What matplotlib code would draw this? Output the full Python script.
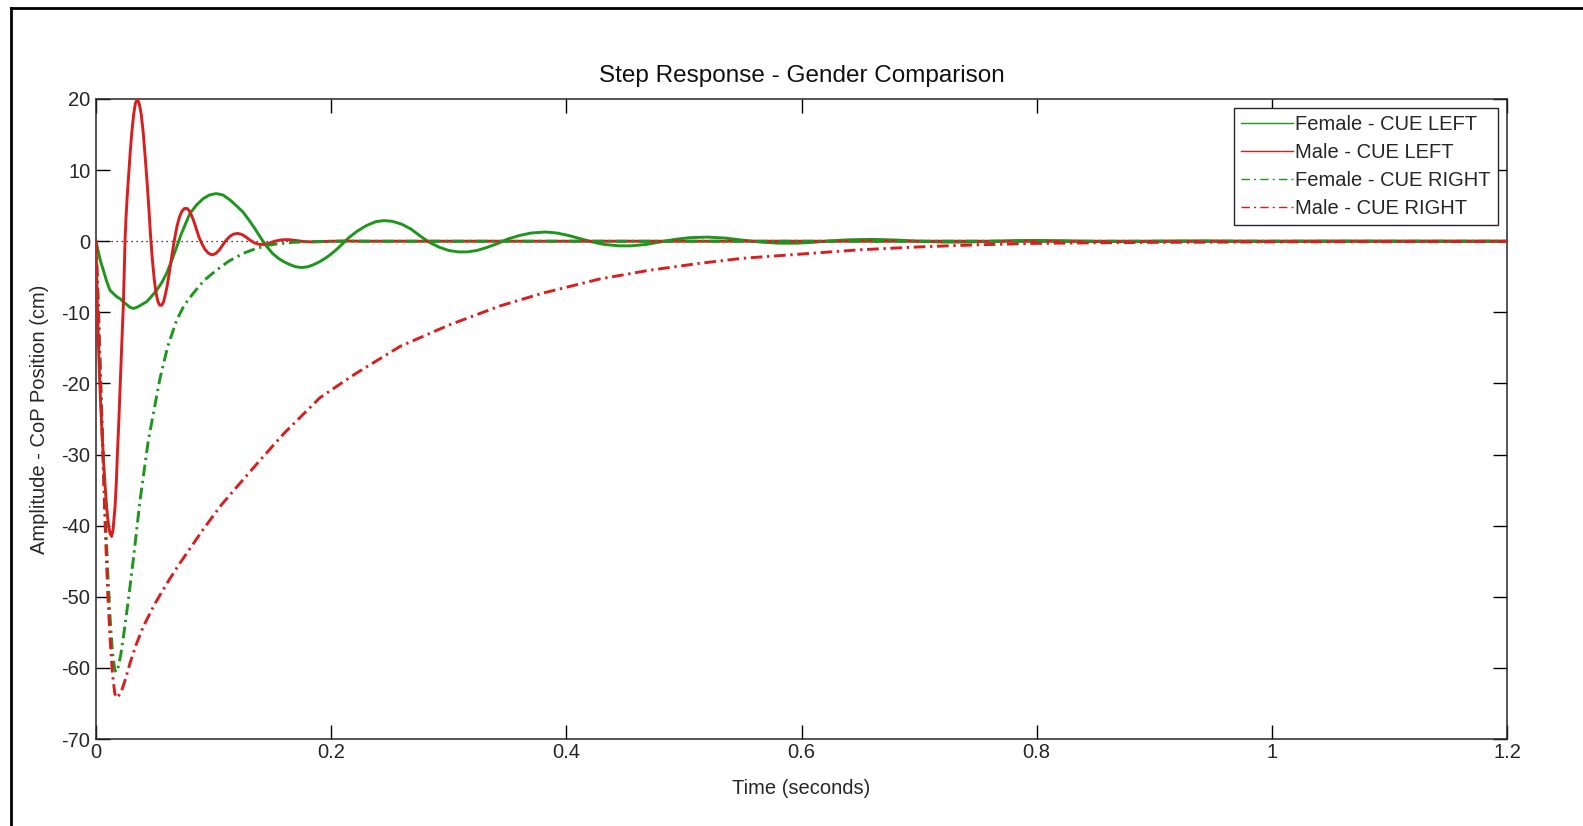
import numpy as np
import matplotlib
matplotlib.use('Agg')
import matplotlib.pyplot as plt
from matplotlib.lines import Line2D

plt.rcParams['font.family'] = ['Liberation Sans', 'DejaVu Sans']
plt.rcParams['axes.unicode_minus'] = False

# ---- data (time in s, amplitude in cm) ----
t_fl = [0, 0.002, 0.004, 0.0062, 0.009, 0.0119, 0.015, 0.0176, 0.0205, 0.0232, 0.026, 0.0289,
        0.032, 0.0346, 0.038, 0.0431, 0.047, 0.0516, 0.056, 0.0601, 0.064, 0.068, 0.072,
        0.076, 0.0799, 0.0855, 0.0913, 0.0965, 0.1021, 0.108, 0.114, 0.12, 0.125, 0.13,
        0.135, 0.14, 0.145, 0.15, 0.155, 0.16, 0.165, 0.17, 0.175, 0.18, 0.185, 0.19,
        0.195, 0.2, 0.205, 0.21, 0.215, 0.222, 0.23, 0.238, 0.245, 0.252, 0.26, 0.268,
        0.276, 0.284, 0.292, 0.3, 0.308, 0.316, 0.324, 0.332, 0.342, 0.35, 0.36, 0.37,
        0.382, 0.392, 0.402, 0.412, 0.422, 0.432, 0.445, 0.455, 0.468, 0.48, 0.492, 0.505,
        0.52, 0.535, 0.55, 0.565, 0.58, 0.595, 0.61, 0.625, 0.64, 0.66, 0.68, 0.7, 0.72,
        0.74, 0.76, 0.78, 0.8, 0.82, 0.85, 0.88, 0.91, 0.94, 0.97, 1.0, 1.05, 1.1, 1.2]
v_fl = [0, -1.5, -2.9, -4.05, -5.6, -6.9, -7.4, -7.8, -8.1, -8.5, -8.9, -9.3,
        -9.45, -9.3, -9.0, -8.5, -7.8, -6.9, -5.8, -4.5, -2.9, -1.1, 0.8,
        2.4, 3.9, 5.1, 6.0, 6.5, 6.7, 6.5, 5.8, 4.9, 4.1, 3.0,
        1.8, 0.5, -0.7, -1.7, -2.4, -2.9, -3.3, -3.6, -3.7, -3.6, -3.3, -2.9,
        -2.4, -1.8, -1.1, -0.3, 0.5, 1.4, 2.2, 2.75, 2.9, 2.8, 2.4, 1.7,
        0.7, -0.2, -0.85, -1.3, -1.5, -1.5, -1.3, -0.9, -0.3, 0.3, 0.8, 1.15,
        1.3, 1.15, 0.8, 0.35, -0.1, -0.45, -0.65, -0.65, -0.45, -0.1, 0.25, 0.5,
        0.58, 0.45, 0.15, -0.12, -0.27, -0.28, -0.15, 0.05, 0.2, 0.26, 0.17, 0.0, -0.12,
        -0.12, -0.03, 0.08, 0.11, 0.07, -0.04, -0.05, 0.01, 0.04, 0.0, -0.02, 0.01, 0.0, 0.0]

t_ml = [0, 0.001, 0.002, 0.003, 0.004, 0.005, 0.006, 0.007, 0.008, 0.009, 0.010, 0.011,
        0.012, 0.0133, 0.0145, 0.0162, 0.0172, 0.0181, 0.0193, 0.0204, 0.0218, 0.0232,
        0.024, 0.0247, 0.0255, 0.0265, 0.0275, 0.029, 0.0304, 0.032, 0.0335, 0.0352,
        0.037, 0.0385, 0.0402, 0.042, 0.0437, 0.0452, 0.0465, 0.048, 0.0495, 0.051,
        0.0525, 0.0542, 0.0559, 0.0575, 0.059, 0.0605, 0.062, 0.064, 0.066, 0.0675,
        0.069, 0.071, 0.073, 0.0752, 0.0777, 0.08, 0.0828, 0.085, 0.0875, 0.0899,
        0.0925, 0.095, 0.0975, 0.0995, 0.102, 0.105, 0.1083, 0.111, 0.114, 0.117,
        0.1205, 0.124, 0.1275, 0.131, 0.135, 0.139, 0.143, 0.147, 0.152, 0.158, 0.164,
        0.17, 0.177, 0.185, 0.195, 0.21, 0.23, 0.26, 1.2]
v_ml = [0, -8, -14, -19, -23, -26.5, -29.5, -32.5, -35, -37.3, -39, -40.3,
        -41.1, -41.5, -40.6, -37.3, -34.2, -30.3, -25.8, -21, -15, -9.2,
        -4.5, 0.2, 3.2, 6.2, 8.6, 12.3, 15.2, 17.8, 19.4, 20.0,
        19.2, 17.8, 15.2, 11.5, 7.7, 4.0, 0.5, -2.7, -5.3, -7.2,
        -8.4, -9.0, -9.0, -8.5, -7.5, -6.3, -4.8, -2.6, -0.5, 0.9,
        2.2, 3.4, 4.2, 4.6, 4.6, 4.1, 3.0, 1.9, 0.6, -0.3,
        -1.1, -1.6, -1.85, -1.9, -1.7, -1.2, -0.4, 0.2, 0.7, 1.0,
        1.1, 0.95, 0.6, 0.15, -0.25, -0.45, -0.45, -0.3, 0.0, 0.2, 0.22,
        0.1, -0.05, -0.1, -0.03, 0.03, 0.0, 0.0, 0.0]

t_fr = [0, 0.002, 0.004, 0.006, 0.008, 0.010, 0.012, 0.014, 0.016, 0.0175, 0.019, 0.021,
        0.0235, 0.0275, 0.0317, 0.0374, 0.0445, 0.0544, 0.061, 0.0686, 0.075, 0.0828,
        0.092, 0.1026, 0.113, 0.1253, 0.135, 0.1451, 0.155, 0.168, 0.185, 0.2, 1.2]
v_fr = [0, -9, -19.5, -29.5, -38.5, -46.5, -53, -57.8, -60.3, -60.6, -59.8, -58.2,
        -55.4, -50.5, -44.8, -36.5, -28.0, -19.3, -14.8, -11.1, -9.0, -7.3,
        -5.5, -4.05, -2.8, -1.7, -1.1, -0.6, -0.35, -0.15, -0.05, 0.0, 0.0]

t_mr = [0, 0.002, 0.004, 0.006, 0.008, 0.010, 0.012, 0.014, 0.016, 0.0175, 0.019, 0.0218,
        0.025, 0.029, 0.034, 0.0402, 0.05, 0.06, 0.07, 0.0771, 0.09, 0.1055, 0.12, 0.1395,
        0.16, 0.1905, 0.22, 0.2585, 0.30, 0.3436, 0.38, 0.4287, 0.47, 0.5137, 0.55, 0.6,
        0.65, 0.7, 0.75, 0.8, 0.85, 0.9, 1.0, 1.1, 1.2]
v_mr = [0, -10, -21, -31, -41, -49.5, -56, -60.8, -63.6, -64.2, -64, -63.2,
        -61.6, -59.3, -56.8, -54.2, -51.0, -48.2, -45.6, -43.9, -40.8, -37.3, -34.5, -30.8,
        -27.0, -22.0, -18.7, -14.8, -11.8, -9.1, -7.3, -5.3, -4.1, -3.1, -2.4, -1.8,
        -1.2, -0.8, -0.5, -0.3, -0.22, -0.16, -0.1, -0.05, -0.03]

labels = ['Female - CUE LEFT', 'Male - CUE LEFT', 'Female - CUE RIGHT', 'Male - CUE RIGHT']
xticks = [0, 0.2, 0.4, 0.6, 0.8, 1.0, 1.2]
xticklabels = ['0', '0.2', '0.4', '0.6', '0.8', '1', '1.2']
yticks = [-70, -60, -50, -40, -30, -20, -10, 0, 10, 20]

GREEN = '#1e961e'
RED = '#d81e1e'
DD = (4, 1.6, 0.8, 1.6)

fig = plt.figure(figsize=(15.83, 8.26), dpi=100)
fig.patch.set_facecolor('white')
ax = fig.add_axes([96/1583, 1-739/826, (1507-96)/1583, (739-99)/826])

ax.axhline(0, color='black', lw=0.9, ls=(0, (1, 3)), zorder=1)
ax.plot(t_fl, v_fl, color=GREEN, lw=2.1, zorder=3)
ax.plot(t_ml, v_ml, color=RED, lw=2.1, zorder=3)
ax.plot(t_fr, v_fr, color=GREEN, lw=2.1, dashes=DD, zorder=3)
ax.plot(t_mr, v_mr, color=RED, lw=2.1, dashes=DD, zorder=3)

ax.set_xlim(0, 1.2)
ax.set_ylim(-70, 20)
ax.set_xticks(xticks)
ax.set_xticklabels(xticklabels)
ax.set_yticks(yticks)
ax.tick_params(direction='in', length=10, width=1, top=True, right=True,
               labelsize=14.5, labelcolor='#262626', pad=4)
ax.tick_params(axis='x', pad=3)
for s in ax.spines.values():
    s.set_linewidth(1.1)
    s.set_color('#262626')

ax.set_title('Step Response - Gender Comparison', fontsize=17.5, pad=12, color='#111111')
ax.set_xlabel('Time (seconds)', fontsize=14.5, color='#262626', labelpad=12)
ax.set_ylabel('Amplitude - CoP Position (cm)', fontsize=14.5, color='#262626')
ax.yaxis.set_label_coords(-0.033, 0.5)

handles = [Line2D([], [], color=GREEN, lw=1.0),
           Line2D([], [], color=RED, lw=1.0),
           Line2D([], [], color=GREEN, lw=1.0, dashes=(6, 3, 1.5, 3)),
           Line2D([], [], color=RED, lw=1.0, dashes=(6, 3, 1.5, 3))]
leg = ax.legend(handles, labels, loc='upper right', bbox_to_anchor=(1498/1583, 1-108/826),
                bbox_transform=fig.transFigure, borderaxespad=0, fontsize=14.5,
                handlelength=2.6, handletextpad=0.1, labelspacing=0.45,
                borderpad=0.35, fancybox=False, framealpha=1, edgecolor='#262626')
leg.get_frame().set_linewidth(1.0)
for txt in leg.get_texts():
    txt.set_color('#262626')

# outer frame (left and top edges visible)
fig.add_artist(Line2D([11/1583, 11/1583], [0, 1-8/826], transform=fig.transFigure,
                      color='black', lw=2))
fig.add_artist(Line2D([11/1583, 1], [1-8/826, 1-8/826], transform=fig.transFigure,
                      color='black', lw=2))

fig.savefig('out.png', dpi=100, facecolor='white')
